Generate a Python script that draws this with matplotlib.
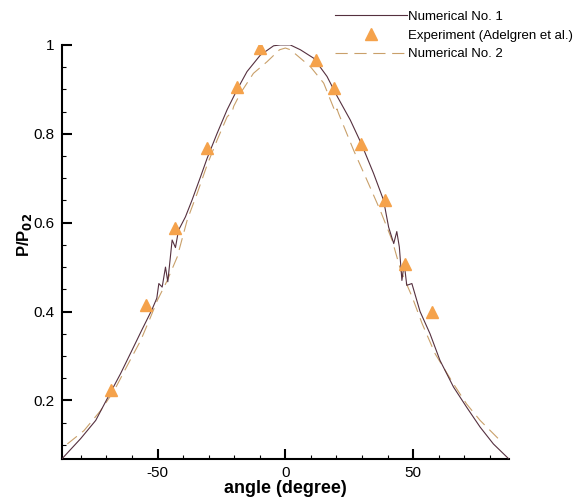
import matplotlib
matplotlib.use('Agg')
import matplotlib.pyplot as plt
import numpy as np

plt.rcParams['font.family'] = ['Liberation Sans', 'DejaVu Sans']
plt.rcParams['axes.unicode_minus'] = False

# Numerical No. 1 (dark solid line)
num1_angle = [-87.5, -80.1, -74.2, -69.7, -64.5, -60.0, -56.2, -52.3, -50.3, -49.5, -48.2,
              -46.9, -46.0, -44.3, -43.0, -41.8, -39.1, -36.5, -33.2, -30.6, -26.7, -22.8,
              -18.9, -15.0, -9.8, -4.6, -2.0, 1.9, 5.9, 11.1, 16.3, 20.3, 25.4, 29.7, 34.5,
              38.4, 40.4, 42.4, 43.6, 44.6, 45.6, 46.5, 47.5, 49.5, 52.7, 56.6, 60.5, 65.8,
              70.9, 76.2, 81.4, 87.5]
num1_value = [0.068, 0.114, 0.155, 0.204, 0.260, 0.313, 0.358, 0.403, 0.430, 0.463, 0.455,
              0.500, 0.467, 0.561, 0.544, 0.583, 0.613, 0.651, 0.703, 0.745, 0.801, 0.854,
              0.899, 0.940, 0.977, 0.998, 1.000, 1.000, 0.989, 0.970, 0.929, 0.884, 0.831,
              0.778, 0.711, 0.651, 0.590, 0.553, 0.580, 0.545, 0.470, 0.508, 0.459, 0.463,
              0.400, 0.350, 0.290, 0.230, 0.185, 0.140, 0.102, 0.068]

# Numerical No. 2 (tan dashed line)
num2_angle = [-85.3, -78.8, -72.3, -67.0, -61.8, -56.6, -52.7, -50.1, -46.2, -42.3, -38.4,
              -34.5, -30.6, -26.7, -22.8, -20.8, -20.2, -17.6, -12.5, -7.2, -2.3, 0.0,
              2.0, 9.8, 15.0, 19.6, 20.2, 20.8, 26.7, 31.9, 37.1, 41.8, 45.1, 49.6, 53.5,
              58.6, 65.8, 70.9, 76.2, 84.0]
num2_value = [0.102, 0.132, 0.177, 0.222, 0.279, 0.335, 0.388, 0.425, 0.470, 0.523, 0.606,
              0.666, 0.730, 0.786, 0.838, 0.850, 0.862, 0.891, 0.936, 0.962, 0.989, 0.993,
              0.989, 0.951, 0.914, 0.848, 0.856, 0.846, 0.763, 0.696, 0.628, 0.560, 0.493,
              0.433, 0.373, 0.305, 0.237, 0.192, 0.155, 0.110]

# Experiment (Adelgren et al.)
exp_angle = [-68.1, -54.6, -43.0, -30.6, -18.9, -9.8, 12.0, 18.9, 29.7, 38.8, 46.9, 57.3]
exp_value = [0.224, 0.414, 0.588, 0.769, 0.905, 0.994, 0.966, 0.902, 0.778, 0.651, 0.506, 0.399]

fig = plt.figure(figsize=(5.79, 4.99), dpi=100)
ax = fig.add_axes([0.1066, 0.080, 0.7725, 0.830])

ax.plot(num1_angle, num1_value, color='#55303f', lw=0.8, label='Numerical No. 1', zorder=3)
ax.plot(exp_angle, exp_value, linestyle='none', marker='^', ms=8, color='#f5a24b',
        label='Experiment (Adelgren et al.)', zorder=4)
ax.plot(num2_angle, num2_value, color='#c9a06a', lw=0.8, dashes=(11, 6),
        label='Numerical No. 2', zorder=2)

ax.set_xlim(-87.5, 87.5)
ax.set_ylim(0.068, 1.0)
ax.set_xticks([-50, 0, 50])
ax.set_xticks(np.arange(-80, 81, 10), minor=True)
ax.set_yticks([0.2, 0.4, 0.6, 0.8, 1.0])
ax.set_yticks(np.arange(0.1, 1.0, 0.05), minor=True)
ax.yaxis.set_major_formatter(matplotlib.ticker.FormatStrFormatter('%g'))

for s in ['top', 'right']:
    ax.spines[s].set_visible(False)
for s in ['left', 'bottom']:
    ax.spines[s].set_linewidth(1.5)

ax.tick_params(which='major', direction='in', length=7, width=1.5, labelsize=11, pad=5)
ax.tick_params(which='minor', direction='in', length=3.2, width=0.8)

ax.set_xlabel('angle (degree)', fontsize=13, fontweight='bold', labelpad=0)
ax.set_ylabel(r'P/P$_{\mathbf{02}}$', fontsize=12, fontweight='bold')
ax.yaxis.set_label_coords(-0.062, 0.54)

fig.legend(loc='upper left', bbox_to_anchor=(0.5786, 0.979), frameon=False, fontsize=9.5,
           handlelength=5.45, handletextpad=0.1, labelspacing=0.5, borderpad=0,
           borderaxespad=0)

fig.savefig('out.png', dpi=100)
